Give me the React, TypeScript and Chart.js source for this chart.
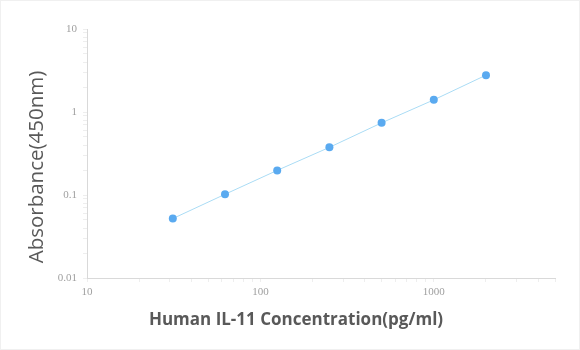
import React, { useEffect, useRef } from "react";
import { Chart, registerables } from "chart.js";

Chart.register(...registerables);

const concentrations = [31.25, 62.5, 125, 250, 500, 1000, 2000];
const absorbance = [0.052, 0.102, 0.198, 0.375, 0.74, 1.4, 2.78];
const xTickValues = [10, 100, 1000];
const yTickValues = [0.01, 0.1, 1, 10];
const xTitle = "Human IL-11 Concentration(pg/ml)";
const yTitle = "Absorbance(450nm)";

const isMajor = (v: number) => Math.abs(Math.log10(v) - Math.round(Math.log10(v))) < 1e-9;

const titlePlugin = {
  id: "axisTitles",
  afterDraw(chart: any) {
    const ctx = chart.ctx;
    ctx.save();
    ctx.fillStyle = "#595959";
    ctx.textAlign = "center";
    ctx.textBaseline = "middle";
    ctx.font = "bold 17px 'Open Sans'";
    ctx.fillText(xTitle, 295, 319);
    ctx.translate(36, 166);
    ctx.rotate(-Math.PI / 2);
    ctx.font = "normal 20.5px 'Open Sans'";
    ctx.fillText(yTitle, 0, 0);
    ctx.restore();
  },
};

export default function App() {
  const ref = useRef<HTMLCanvasElement | null>(null);
  useEffect(() => {
    if (!ref.current) return;
    const chart = new Chart(ref.current, {
      type: "line",
      data: {
        datasets: [
          {
            data: concentrations.map((x, i) => ({ x, y: absorbance[i] })),
            borderColor: "#aadcf5",
            borderWidth: 1,
            pointBackgroundColor: "#5aaaf0",
            pointBorderColor: "#5aaaf0",
            pointRadius: 4,
            pointBorderWidth: 0,
            fill: false,
            tension: 0,
          },
        ],
      },
      plugins: [titlePlugin],
      options: {
        animation: false,
        responsive: false,
        layout: { padding: { left: 0, right: 24, top: 28, bottom: 0 } },
        plugins: { legend: { display: false }, tooltip: { enabled: false } },
        scales: {
          x: {
            type: "logarithmic",
            min: 10,
            max: 5000,
            afterFit: (s: any) => {
              s.height = 71;
            },
            afterBuildTicks: (s: any) => {
              const t: any[] = [];
              for (let d = 10; d < 5000; d *= 10) {
                for (let k = 1; k <= 9; k++) {
                  const v = d * k;
                  if (v <= 5000) t.push({ value: v, major: k === 1 });
                }
              }
              s.ticks = t;
            },
            border: { color: "#d9d9d9" },
            grid: {
              drawOnChartArea: false,
              tickLength: 4,
              color: "#eeeeee",
            },
            ticks: {
              autoSkip: false,
              maxRotation: 0,
              padding: 4,
              color: "#a0a0a0",
              font: { family: "Liberation Serif", size: 11 },
              callback: (v: any) => (xTickValues.includes(Number(v)) ? String(v) : ""),
            },
            title: { display: false },
          },
          y: {
            type: "logarithmic",
            min: 0.01,
            max: 10,
            afterFit: (s: any) => {
              s.width = 86;
            },
            afterBuildTicks: (s: any) => {
              const t: any[] = [];
              for (let d = 0.01; d < 10; d *= 10) {
                for (let k = 1; k <= 9; k++) t.push({ value: +(d * k).toPrecision(6), major: k === 1 });
              }
              t.push({ value: 10, major: true });
              s.ticks = t;
            },
            border: { color: "#d9d9d9" },
            grid: {
              drawOnChartArea: false,
              tickLength: 4,
              color: "#eeeeee",
            },
            ticks: {
              autoSkip: false,
              padding: 6,
              color: "#a0a0a0",
              font: { family: "Liberation Serif", size: 11 },
              callback: (v: any) => {
                const n = Number(v);
                const m = yTickValues.find((y) => Math.abs(y - n) / y < 1e-6);
                return m !== undefined && isMajor(n) ? String(m) : "";
              },
            },
            title: { display: false },
          },
        },
      },
    } as any);
    return () => chart.destroy();
  }, []);
  return (
    <div
      style={{
        position: "absolute",
        left: 0,
        top: 0,
        width: 580,
        height: 350,
        boxSizing: "border-box",
        border: "1px solid #f0f0f0",
        background: "#fff",
      }}
    >
      <canvas ref={ref} width={578} height={348} style={{ display: "block" }} />
    </div>
  );
}
